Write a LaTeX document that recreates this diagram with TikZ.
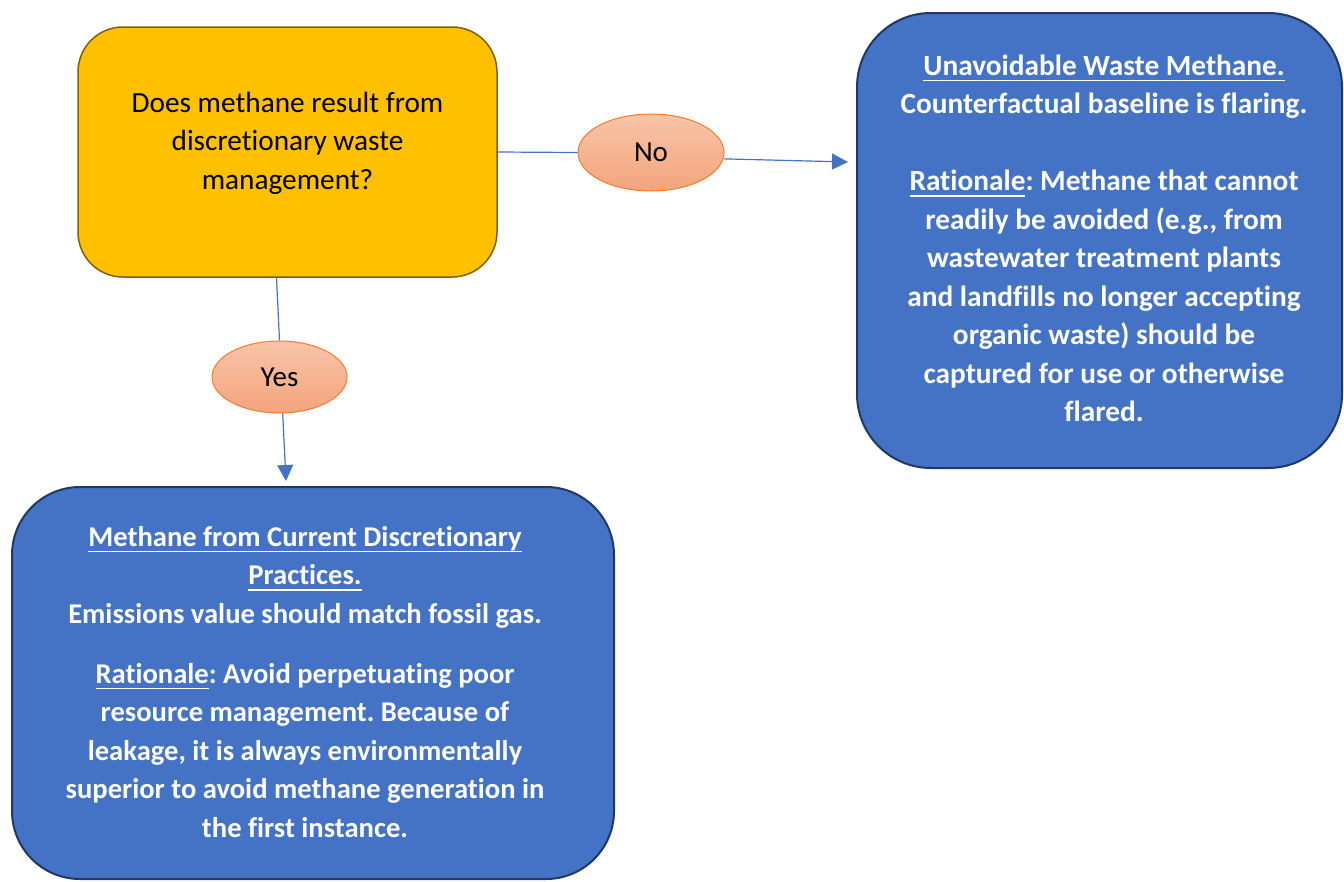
\documentclass[tikz,border=0pt]{standalone}
\usepackage{fontspec}
\setmainfont{Carlito}[Ligatures={NoCommon}]
\usetikzlibrary{arrows.meta,shapes.geometric,calc}
\definecolor{qyellow}{HTML}{FFC000}
\definecolor{qborder}{HTML}{7F6000}
\definecolor{bfill}{HTML}{4472C4}
\definecolor{bborder}{HTML}{203864}
\definecolor{etop}{HTML}{F8C4A8}
\definecolor{ebot}{HTML}{F4A47C}
\definecolor{eborder}{HTML}{ED7D31}
\definecolor{connc}{HTML}{4472C4}
\newcommand\ulin[1]{\setbox0\hbox{#1}\rlap{\rule[-6pt]{\wd0}{1.8pt}}\box0}
\frenchspacing
\begin{document}
\begin{tikzpicture}[x=1pt,y=-1pt,
  qbox/.style={draw=qborder, line width=1.5pt, fill=qyellow, rounded corners=45pt,
    minimum width=419pt, minimum height=250pt, inner sep=0pt},
  bbox/.style={draw=bborder, line width=2pt, fill=bfill, inner sep=0pt},
  qtext/.style={align=center, text=black, font=\fontsize{29.3}{38.5}\selectfont, inner sep=0pt},
  btext/.style={align=center, text=white, font=\fontsize{29.3}{38.5}\selectfont\bfseries, inner sep=0pt},
  lab/.style={ellipse, draw=eborder, line width=1pt, top color=etop, bottom color=ebot,
    inner sep=0pt, font=\fontsize{29}{32}\selectfont, text=black},
  conn/.style={draw=connc, line width=1.2pt},
  arr/.style={conn, -{Triangle[length=16pt,width=16pt]}}
]
\useasboundingbox (0,0) rectangle (1344,881);
% boxes
\node[qbox] (q) at (287.5,152) {};
\node[bbox, rounded corners=74pt, minimum width=485pt, minimum height=455pt] (ua) at (1099.5,240.5) {};
\node[bbox, rounded corners=68pt, minimum width=602pt, minimum height=392pt] (cd) at (313,683) {};
% texts
\node[qtext] (qt) at (287.5,143) {Does methane result from\\discretionary waste\\management?};
\node[btext] (uat) at (1104,238.5) {\ulin{Unavoidable Waste Methane.}\\Counterfactual baseline is flaring.\\[38.5pt]
\ulin{Rationale}: Methane that cannot\\readily be avoided (e.g., from\\wastewater treatment plants\\and landfills no longer accepting\\organic waste) should be\\captured for use or otherwise\\flared.};
\node[btext, font=\fontsize{28.6}{38.5}\selectfont\bfseries] (cdt) at (305,682) {\ulin{Methane from Current Discretionary}\\\ulin{Practices.}\\Emissions value should match fossil gas.\\[21.5pt]
\ulin{Rationale}: Avoid perpetuating poor\\resource management. Because of\\leakage, it is always environmentally\\superior to avoid methane generation in\\the first instance.};
% labels
\node[lab, minimum width=146pt, minimum height=77pt] (no) at (651,152.5) {No};
\node[lab, minimum width=135pt, minimum height=72pt] (yes) at (279.5,377) {Yes};
% connector ends
\coordinate (tipno) at (848,162);
\coordinate (tipyes) at (286,481);
\draw[conn] (q.east) -- (no.west);
\draw[arr] (no.-5) -- (tipno);
\draw[conn] (q.-95) -- (yes.north);
\draw[arr] (yes.-85) -- (tipyes);
\end{tikzpicture}
\end{document}
